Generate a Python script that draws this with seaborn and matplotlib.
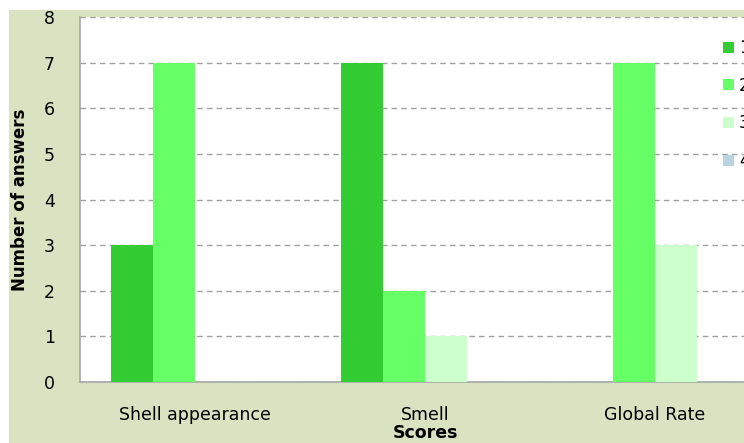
import matplotlib
matplotlib.use("Agg")
import matplotlib.pyplot as plt
from matplotlib.patches import Patch, Rectangle
from matplotlib.ticker import FixedLocator
import seaborn as sns
import pandas as pd

# values
categories = ["Shell appearance", "Smell", "Global Rate"]
score_labels = ["1", "2", "3", "4"]
score_1 = [3, 7, 0]
score_2 = [7, 2, 7]
score_3 = [0, 1, 3]
score_4 = [0, 0, 0]
colors = ["#33CC33", "#66FF66", "#CCFFCC", "#B7D4E0"]

rows = []
for lab, vals in zip(score_labels, [score_1, score_2, score_3, score_4]):
    for cat, v in zip(categories, vals):
        rows.append({"category": cat, "score": lab, "answers": v})
df = pd.DataFrame(rows)

sns.set_style("white")
plt.rcParams['font.family'] = ['DejaVu Sans']
plt.rcParams['text.color'] = 'black'
plt.rcParams['axes.labelcolor'] = 'black'
plt.rcParams['xtick.labelcolor'] = 'black'
plt.rcParams['ytick.labelcolor'] = 'black'

W, H = 744, 443
fig = plt.figure(figsize=(W / 100, H / 100), dpi=100)
fig.patch.set_facecolor("white")
# olive chart area behind the axes
fig.patches.append(Rectangle((9 / W, 0), 1, 1 - 10 / H, transform=fig.transFigure,
                             facecolor="#D9E3C1", edgecolor="none", zorder=-5))

ax = fig.add_axes([80 / W, 1 - 382 / H, 690 / W, 365 / H])
ax.set_zorder(1)
ax.set_facecolor("white")

sns.barplot(data=df, x="category", y="answers", hue="score", order=categories,
            hue_order=score_labels, palette=colors, width=0.73, gap=0,
            linewidth=0, saturation=1, ax=ax, legend=False, zorder=3)

ax.set_xlim(-0.5, 2.5)
ax.set_ylim(0, 8)
ax.set_yticks(range(0, 9))
ax.yaxis.grid(True, linestyle=(0, (4, 3)), color="#A0A0A0", linewidth=1)
ax.set_axisbelow(True)

for s in ["top", "right"]:
    ax.spines[s].set_visible(False)
for s in ["left", "bottom"]:
    ax.spines[s].set_color("#A6A6A6")
    ax.spines[s].set_linewidth(1.2)

ax.xaxis.set_minor_locator(FixedLocator([-0.5, 0.5, 1.5, 2.5]))
ax.tick_params(axis="x", which="major", length=0, pad=17, labelsize=12.5)
ax.tick_params(axis="x", which="minor", length=5, color="#A6A6A6", direction="out")
ax.tick_params(axis="y", length=4, color="#A6A6A6", direction="out", labelsize=12.5, pad=14)

ax.set_xlabel("Scores", fontsize=12.5, fontweight="bold", labelpad=0)
ax.set_ylabel("Number of answers", fontsize=12, fontweight="bold", labelpad=11)

handles = [Patch(facecolor=c, edgecolor="none") for c in colors]
leg = fig.legend(handles, score_labels, loc="upper left", bbox_to_anchor=(708 / W, 1 - 24 / H),
                 frameon=False, fontsize=12, handlelength=0.65, handleheight=0.65,
                 handletextpad=0.3, labelspacing=1.18)
leg.set_zorder(5)

fig.savefig("out.png", dpi=100)
